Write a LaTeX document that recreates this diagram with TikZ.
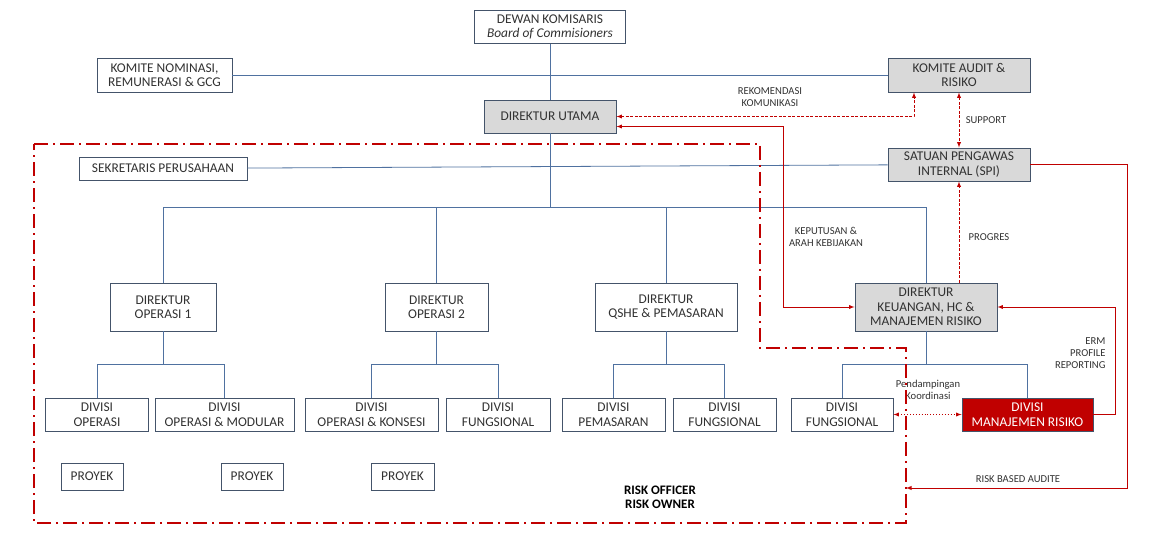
\documentclass[tikz,border=0pt]{standalone}
\usepackage{fontspec}
\setmainfont{Carlito}
\usepackage{tikz}
\usetikzlibrary{shapes,arrows}
\definecolor{boxline}{RGB}{68,84,106}
\definecolor{orgline}{RGB}{79,113,160}
\definecolor{riskred}{RGB}{192,0,0}
\definecolor{txt}{RGB}{50,50,50}
\tikzstyle{box} = [draw=boxline, line width=0.9pt, align=center, inner sep=1pt, text=txt, font=\fontsize{13.4}{14.5}\selectfont]
\tikzstyle{grey} = [box, fill=black!15]
\tikzstyle{note} = [align=center, text=txt, font=\fontsize{10.6}{12}\selectfont]
\tikzstyle{org} = [draw=orgline, line width=0.8pt, -]
\tikzstyle{rsolid} = [draw=riskred, line width=0.9pt]
\tikzstyle{rdash} = [rsolid, dashed, dash pattern=on 3pt off 1.5pt]
\tikzstyle{rdot} = [rsolid, dotted]

\begin{document}
\begin{tikzpicture}[x=1pt,y=-1pt,>=latex]
\useasboundingbox (0,0) rectangle (1168,537);

\node[box, minimum width=151, minimum height=33] (dk) at (550,27) {DEWAN KOMISARIS\\\textit{Board of Commisioners}};
\node[box, minimum width=135, minimum height=34] (kn) at (164.5,75) {KOMITE NOMINASI,\\REMUNERASI \& GCG};
\node[grey, minimum width=142, minimum height=34] (ka) at (959,75) {KOMITE AUDIT \&\\RISIKO};
\node[grey, minimum width=132, minimum height=33] (du) at (550,116.5) {DIREKTUR UTAMA};
\node[box, minimum width=168, minimum height=23] (sp) at (163,168.5) {SEKRETARIS PERUSAHAAN};
\node[grey, minimum width=142, minimum height=33] (spi) at (959,164.5) {SATUAN PENGAWAS\\INTERNAL (SPI)};

\node[box, minimum width=106, minimum height=48] (op1) at (163,307) {DIREKTUR\\OPERASI 1};
\node[box, minimum width=103, minimum height=48] (op2) at (436.5,307) {DIREKTUR\\OPERASI 2};
\node[box, minimum width=142, minimum height=48] (qs) at (666,307) {DIREKTUR\\QSHE \& PEMASARAN};
\node[grey, minimum width=142, minimum height=48] (keu) at (926,307) {DIREKTUR\\KEUANGAN, HC \&\\MANAJEMEN RISIKO};

\node[box, minimum width=103, minimum height=33] (dv1) at (97,414.5) {DIVISI\\OPERASI};
\node[box, minimum width=139, minimum height=33] (dv2) at (224.5,414.5) {DIVISI\\OPERASI \& MODULAR};
\node[box, minimum width=133, minimum height=33] (dv3) at (371.5,414.5) {DIVISI\\OPERASI \& KONSESI};
\node[box, minimum width=104, minimum height=33] (dv4) at (498,414.5) {DIVISI\\FUNGSIONAL};
\node[box, minimum width=103, minimum height=33] (dv5) at (613.5,414.5) {DIVISI\\PEMASARAN};
\node[box, minimum width=103, minimum height=33] (dv6) at (724.5,414.5) {DIVISI\\FUNGSIONAL};
\node[box, minimum width=102, minimum height=33] (dv7) at (842,414.5) {DIVISI\\FUNGSIONAL};
\node[box, fill=riskred, text=white, minimum width=131, minimum height=33] (dmr) at (1027.5,414.5) {DIVISI\\MANAJEMEN RISIKO};

\node[box, minimum width=62, minimum height=27] (pr1) at (92,476.5) {PROYEK};
\node[box, minimum width=62, minimum height=27] (pr2) at (252,476.5) {PROYEK};
\node[box, minimum width=63, minimum height=27] (pr3) at (402.5,476.5) {PROYEK};

\node[note] (rek) at (770,97) {REKOMENDASI\\KOMUNIKASI};
\node[note] (sup) at (986,120) {SUPPORT};
\node[note] (kep) at (826,237) {KEPUTUSAN \&\\ARAH KEBIJAKAN};
\node[note] (prg) at (989,237) {PROGRES};
\node[note, align=right, anchor=east] (erm) at (1109,353) {ERM\\PROFILE\\REPORTING};
\node[note] (pdk) at (928,390) {Pendampingan\\Koordinasi};
\node[note] (rba) at (1018,479) {RISK BASED AUDITE};
\node[align=center, font=\fontsize{13}{14}\selectfont\bfseries] (ro) at (660,497) {RISK OFFICER\\RISK OWNER};
\coordinate (rb) at (906,488);

\path[org]
(dk) edge (du)
(kn) edge (ka)
(sp) edge (spi);
\foreach \d in {op1,op2,qs,keu}
  \draw[org] (du.south) -- ++(0,74) -| (\d.north);
\foreach \o/\d in {op1/dv1,op1/dv2,op2/dv3,op2/dv4,qs/dv5,qs/dv6,keu/dv7,keu/dmr}
  \draw[org] (\o.south) -- ++(0,33) -| (\d.north);

\draw[riskred, line width=2.4pt, dash pattern=on 14pt off 5pt on 2pt off 5pt]
(34,144) -- (760,144) -- (760,348) -- (906,348) -- (906,523) -- (34,523) -- cycle;

\draw[rdash,<->] (du.east) -| ([xshift=-45pt]ka.south);
\draw[rsolid,<->] ([yshift=-10pt]du.east) -- ++(167,0) |- (keu.west);
\draw[rdash,<->] (ka) -- (spi);
\draw[rdash,->] ([xshift=33pt]keu.north) -- (spi.south);
\draw[rsolid,->] (spi.east) -- ++(97,0) |- (rb);
\draw[rsolid,->] (dmr.east) -- ++(22,0) |- (keu.east);
\draw[rdot,<->] (dv7) -- (dmr);
\end{tikzpicture}
\end{document}
